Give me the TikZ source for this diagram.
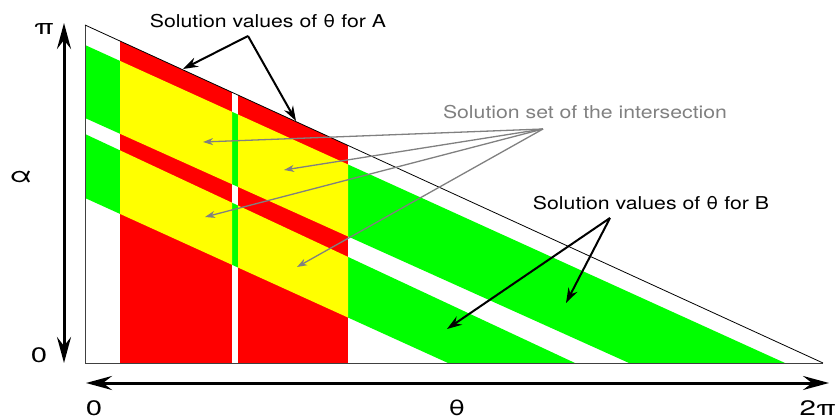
\documentclass[tikz,border=0pt]{standalone}
\usepackage{fontspec}
\setmainfont[FakeStretch=1.2]{TeX Gyre Heros}
\newfontfamily\axisfont[FakeStretch=1.4]{TeX Gyre Heros}
\usetikzlibrary{arrows.meta}
\definecolor{setgreen}{RGB}{0,255,0}
\definecolor{setred}{RGB}{255,0,0}
\definecolor{setyellow}{RGB}{255,255,0}
\definecolor{hintgray}{RGB}{128,128,128}

\begin{document}
\begin{tikzpicture}[
                x=1pt, y=-1pt,
                setnote/.style={font=\fontsize{17.7}{20}\selectfont, inner sep=0pt},
                axisnote/.style={font=\axisfont\fontsize{21}{24}\selectfont, inner sep=0pt},
                axisarrow/.style={line width=3pt, >={Stealth[length=26pt, width=14pt, inset=9pt]}, <->},
                pointer/.style={line width=2pt, >={Stealth[length=15pt, width=10pt, inset=5pt]}, ->},
                hint/.style={hintgray, line width=1.3pt, >={Stealth[length=10pt, width=7pt, inset=3pt]}, ->}
            ]
                \useasboundingbox (0,0) rectangle (837,419);

                % Triangle corners
                \coordinate (T) at (85,25);
                \coordinate (O) at (85,363);
                \coordinate (R) at (823,363);

                \begin{scope}
                    \clip (T) -- (O) -- (R) -- cycle;
                    % Solution bands for B (left edge / bottom edge)
                    \foreach \ta/\tb/\ba/\bb in {45/785/118/629, 134/575/198/448}
                        \fill[setgreen] (85,\ta) -- (\tb,363) -- (\bb,363) -- (85,\ba) -- cycle;
                    % Solution columns for A
                    \fill[setred] (120,0) rectangle (232,400);
                    \fill[setred] (238,0) rectangle (348,400);
                    % Intersection
                    \clip (120,0) rectangle (232,400) (238,0) rectangle (348,400);
                    \foreach \ta/\tb/\ba/\bb in {45/785/118/629, 134/575/198/448}
                        \fill[setyellow] (85,\ta) -- (\tb,363) -- (\bb,363) -- (85,\ba) -- cycle;
                \end{scope}

                % Outline
                \draw[darkgray, line width=0.8pt] (T) -- (O) -- (R);
                \draw[line width=0.8pt] (T) -- (R);

                % Axes
                \coordinate (ytop) at (64,23);
                \coordinate (ybot) at (64,363);
                \coordinate (xleft) at (86,383);
                \coordinate (xright) at (829,383);
                \draw[axisarrow] (ybot) -- (ytop);
                \draw[axisarrow] (xleft) -- (xright);

                \node[axisnote] (pi) at (44,29) {π};
                \node[axisnote] (alpha) at (21,177) {α};
                \node[axisnote] (zeroA) at (39,355) {0};
                \node[axisnote] (zeroT) at (94,408) {0};
                \node[axisnote] (theta) at (457,408) {θ};
                \node[axisnote, anchor=east] (twopi) at (836,408) {2π};

                % Labels
                \node[setnote] (solA) at (268,21) {Solution values of θ for A};
                \node[setnote, hintgray] (solS) at (585,112) {Solution set of the intersection};
                \node[setnote] (solB) at (651,203) {Solution values of θ for B};

                % Pointers for A
                \coordinate (hubA) at (248,36);
                \coordinate (tipA1) at (183,69);
                \coordinate (tipA2) at (296,121);
                \draw[pointer] (hubA) -- (tipA1);
                \draw[pointer] (hubA) -- (tipA2);

                % Pointers for B
                \coordinate (hubB) at (610,218);
                \coordinate (tipB1) at (447,329);
                \coordinate (tipB2) at (566,303);
                \draw[pointer] (hubB) -- (tipB1);
                \draw[pointer] (hubB) -- (tipB2);

                % Pointers for the intersection
                \coordinate (hubS) at (543,129);
                \coordinate (tipS1) at (203,142);
                \coordinate (tipS2) at (284,170);
                \coordinate (tipS3) at (205,217);
                \coordinate (tipS4) at (297,267);
                \foreach \s in {1,2,3,4}
                    \draw[hint] (hubS) -- (tipS\s);
            \end{tikzpicture}
\end{document}
